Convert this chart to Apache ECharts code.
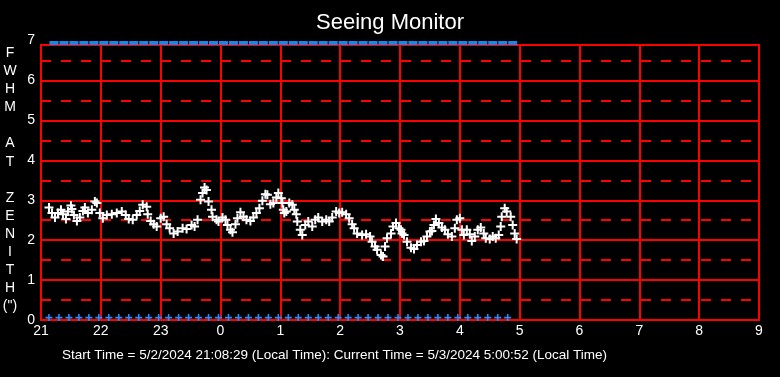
<!DOCTYPE html>
<html>
<head>
<meta charset="utf-8">
<script src="https://cdn.jsdelivr.net/npm/echarts@6/dist/echarts.min.js"></script>
<style>
html,body{margin:0;padding:0;background:#000;}
#chart{width:780px;height:377px;}
</style>
</head>
<body>
<div id="chart"></div>
<script>
// minutes after 21:00 on 5/2/2024
const whiteMinutes = [8,11,14,17,20,22,25,27,30,31,33,36,39,42,44,47,51,54,56,59,62,66,71,76,81,85,88,92,96,99,102,106,107,110,113,116,120,123,126,129,133,137,142,146,151,154,157,160,162,164,166,168,171,172,176,178,182,185,187,190,192,195,197,200,203,206,210,213,216,219,222,225,227,230,233,236,238,241,242,243,244,246,249,252,254,256,257,260,262,265,268,272,275,278,282,286,289,292,296,299,302,306,309,312,314,317,322,326,330,332,335,337,341,343,345,347,351,353,356,359,361,362,364,367,371,374,377,381,384,387,390,392,394,396,399,402,405,408,412,415,417,420,422,424,427,430,432,435,438,441,444,446,450,453,456,459,461,462,465,467,471,473,475,477];
const whiteFwhm = [2.82,2.68,2.57,2.68,2.76,2.65,2.53,2.72,2.87,2.78,2.63,2.48,2.57,2.73,2.82,2.68,2.76,2.97,2.93,2.68,2.55,2.63,2.65,2.68,2.72,2.63,2.53,2.51,2.63,2.73,2.89,2.84,2.65,2.48,2.40,2.34,2.55,2.59,2.40,2.30,2.17,2.22,2.30,2.28,2.38,2.34,2.51,3.01,3.18,3.32,3.26,2.97,2.76,2.59,2.51,2.47,2.57,2.51,2.38,2.26,2.20,2.40,2.55,2.70,2.59,2.51,2.48,2.57,2.68,2.80,2.99,3.15,3.14,2.90,2.93,3.07,3.18,3.05,2.93,2.76,2.68,2.72,2.93,2.89,2.76,2.65,2.47,2.26,2.13,2.38,2.47,2.34,2.51,2.57,2.47,2.51,2.47,2.57,2.72,2.68,2.70,2.65,2.55,2.40,2.30,2.17,2.13,2.15,2.09,1.96,1.84,1.76,1.63,1.59,1.84,2.05,2.17,2.34,2.43,2.30,2.26,2.17,2.13,1.96,1.81,1.78,1.88,1.96,1.98,2.09,2.22,2.23,2.38,2.53,2.43,2.32,2.26,2.15,2.09,2.30,2.51,2.55,2.26,2.13,2.26,2.15,1.98,2.09,2.26,2.32,2.17,2.05,2.03,2.09,2.05,2.13,2.34,2.59,2.80,2.72,2.59,2.38,2.17,2.03];
const bottomMinutes = [8,18,28,38,48,58,68,78,88,98,108,118,128,138,148,158,168,178,188,198,208,218,228,238,248,258,268,278,288,298,308,318,328,338,348,358,368,378,388,398,408,418,428,438,448,458,468];
const bottomLevel = 0.06;
const topMinutes = [13,23,33,43,53,63,73,83,93,103,113,123,133,143,153,163,173,183,193,203,213,223,233,243,253,263,273,283,293,303,313,323,333,343,353,363,373,383,393,403,413,423,433,443,453,463,473];
const topLevel = 6.94;
const xTicks = [21,22,23,0,1,2,3,4,5,6,7,8,9];
const yTicks = [0,1,2,3,4,5,6,7];

const toH = m => 21 + m / 60;
const whiteData = whiteMinutes.map((m, i) => [toH(m), whiteFwhm[i]]);
const bottomData = bottomMinutes.map(m => [toH(m), bottomLevel]);
const topData = topMinutes.map(m => [toH(m), topLevel]);

const FONT = 'Liberation Sans, Arial, sans-serif';
const RED = '#ff0000';
const YMAX = 6.89;
const cross = 'path://M0,3.5H9V5.5H0Z M3.5,0H5.5V9H3.5Z';
const chart = echarts.init(document.getElementById('chart'));
chart.setOption({
  backgroundColor: '#000',
  animation: false,
  title: {
    text: 'Seeing Monitor', left: 'center', top: 7,
    textStyle: {color: '#fff', fontSize: 22, fontWeight: 'normal', fontFamily: FONT}
  },
  grid: {left: 41, right: 21, top: 45, bottom: 57, show: true, borderColor: RED, borderWidth: 2, backgroundColor: 'transparent'},
  xAxis: {
    type: 'value', min: 21, max: 33, interval: 1,
    axisLine: {show: true, lineStyle: {color: RED, width: 2}},
    axisTick: {show: false},
    splitLine: {show: true, lineStyle: {color: RED, width: 2}},
    axisLabel: {color: '#fff', fontSize: 14, margin: 4, fontFamily: FONT,
      formatter: v => String(xTicks[Math.round(v - 21)])}
  },
  yAxis: [{
    type: 'value', min: 0, max: YMAX, interval: 1,
    axisLine: {show: true, lineStyle: {color: RED, width: 2}},
    axisTick: {show: false},
    splitLine: {show: true, lineStyle: {color: RED, width: 2}},
    axisLabel: {color: '#fff', fontSize: 14, margin: 6, fontFamily: FONT,
      formatter: v => v > 6.5 ? '{top|' + yTicks[7] + '}' : String(yTicks[Math.round(v)]),
      rich: {top: {color: '#fff', fontSize: 14, fontFamily: FONT, padding: [0, 0, 10, 0]}}}
  }, {
    type: 'value', min: 0, max: YMAX, interval: 0.5, position: 'left',
    axisLine: {show: false}, axisTick: {show: false}, axisLabel: {show: false},
    splitLine: {show: true, lineStyle: {color: RED, width: 2, type: [10, 10]}}
  }],
  series: [
    {type: 'scatter', data: topData, symbol: 'rect', symbolSize: [9, 4], clip: false, itemStyle: {color: '#1a86e8', opacity: 1}, z: 3},
    {type: 'scatter', data: bottomData, symbol: cross, symbolSize: 7, itemStyle: {color: '#2b8cff', opacity: 1}, z: 3},
    {type: 'scatter', data: whiteData, symbol: cross, symbolSize: 9, itemStyle: {color: '#ffffff', opacity: 1}, z: 4}
  ],
  graphic: [
    {type: 'text', x: 10, y: 44, style: {
      text: 'F\nW\nH\nM\n\nA\nT\n\nZ\nE\nN\nI\nT\nH\n(")', fill: '#fff', fontSize: 14, lineHeight: 18.1,
      align: 'center', verticalAlign: 'top', fontFamily: FONT}},
    {type: 'text', x: 62, y: 355, style: {
      text: 'Start Time = 5/2/2024 21:08:29 (Local Time): Current Time = 5/3/2024 5:00:52 (Local Time)',
      fill: '#fff', fontSize: 13.5, align: 'left', verticalAlign: 'middle', fontFamily: FONT}}
  ]
});
</script>
</body>
</html>
